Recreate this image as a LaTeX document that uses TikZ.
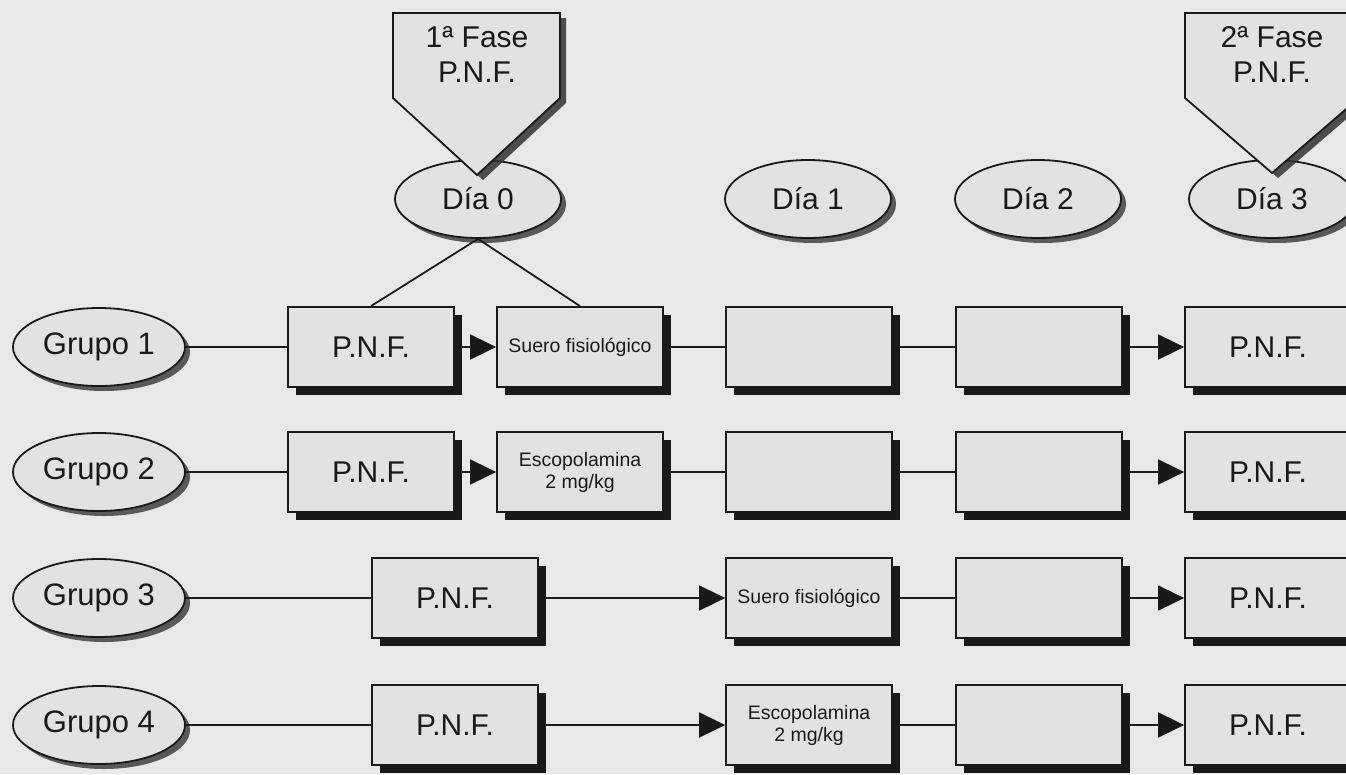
\documentclass[tikz,border=0pt]{standalone}
\usepackage{fontspec}
\setmainfont{Liberation Sans}
\usetikzlibrary{arrows.meta,shapes.geometric,shadows}
\definecolor{fondo}{RGB}{232,232,232}
\definecolor{relleno}{RGB}{226,226,226}
\definecolor{tinta}{RGB}{25,25,25}
\begin{document}
\begin{tikzpicture}[x=1pt,y=-1pt,line width=1.8pt,draw=tinta,
	every node/.style={font=\fontsize{30}{35}\selectfont,text=tinta},
	grupo/.style={ellipse,draw=tinta,fill=relleno,minimum width=172pt,minimum height=78pt,inner sep=0pt,
		drop shadow={shadow xshift=5pt,shadow yshift=-5pt,fill=black!75,opacity=0.85}},
	dia/.style={grupo,minimum width=166pt},
	caja/.style={rectangle,draw=tinta,fill=relleno,minimum width=166pt,minimum height=80pt,inner sep=0pt,
		drop shadow={shadow xshift=8pt,shadow yshift=-8pt,fill=black!90,opacity=1}},
	chica/.style={font=\fontsize{19.5}{22}\selectfont,align=center},
	fase/.style={draw=tinta,fill=relleno,drop shadow={shadow xshift=6pt,shadow yshift=-5pt,fill=black!80,opacity=0.85}},
	flecha/.style={-{Triangle[length=26pt,width=25pt]}}]
	\fill[fondo] (0,0) rectangle (1346,774);
	\useasboundingbox (0,0) rectangle (1346,774);
	% dias
	\node[dia] (d0) at (478,199) {Día 0};
	\node[dia] (d1) at (808,199) {Día 1};
	\node[dia] (d2) at (1038,199) {Día 2};
	\node[dia] (d3) at (1272,199) {Día 3};
	% fases
	\path[fase] (393,13) -- (560,13) -- (560,98) -- (477,175) -- (393,98) -- cycle;
	\path[fase] (1185,13) -- (1359,13) -- (1359,98) -- (1272,173) -- (1185,98) -- cycle;
	\node[align=center] (fa) at (477,55) {1ª Fase\\P.N.F.};
	\node[align=center] (fb) at (1272,55) {2ª Fase\\P.N.F.};
	% grupos
	\node[grupo,font=\fontsize{31}{35}\selectfont] (g1) at (99,347) {Grupo 1};
	\node[grupo,font=\fontsize{31}{35}\selectfont] (g2) at (99,472) {Grupo 2};
	\node[grupo,font=\fontsize{31}{35}\selectfont] (g3) at (99,598) {Grupo 3};
	\node[grupo,font=\fontsize{31}{35}\selectfont] (g4) at (99,725) {Grupo 4};
	% fila 1
	\node[caja] (p1) at (371,347) {P.N.F.};
	\node[caja,chica] (s1) at (580,347) {Suero fisiológico};
	\node[caja] (a1) at (809,347) {};
	\node[caja] (b1) at (1039,347) {};
	\node[caja] (f1) at (1268,347) {P.N.F.};
	% fila 2
	\node[caja] (p2) at (371,472) {P.N.F.};
	\node[caja,chica] (s2) at (580,472) {Escopolamina\\2 mg/kg};
	\node[caja] (a2) at (809,472) {};
	\node[caja] (b2) at (1039,472) {};
	\node[caja] (f2) at (1268,472) {P.N.F.};
	% fila 3
	\node[caja] (p3) at (455,598) {P.N.F.};
	\node[caja,chica] (s3) at (809,598) {Suero fisiológico};
	\node[caja] (b3) at (1039,598) {};
	\node[caja] (f3) at (1268,598) {P.N.F.};
	% fila 4
	\node[caja] (p4) at (455,725) {P.N.F.};
	\node[caja,chica] (s4) at (809,725) {Escopolamina\\2 mg/kg};
	\node[caja] (b4) at (1039,725) {};
	\node[caja] (f4) at (1268,725) {P.N.F.};
	% conexiones
	\draw (d0.south) -- (p1.north);
	\draw (d0.south) -- (s1.north);
	\draw (g1) -- (p1);
	\draw[flecha] (p1) -- (s1);
	\draw (s1) -- (a1);
	\draw (a1) -- (b1);
	\draw[flecha] (b1) -- (f1);
	\draw (g2) -- (p2);
	\draw[flecha] (p2) -- (s2);
	\draw (s2) -- (a2);
	\draw (a2) -- (b2);
	\draw[flecha] (b2) -- (f2);
	\draw (g3) -- (p3);
	\draw[flecha] (p3) -- (s3);
	\draw (s3) -- (b3);
	\draw[flecha] (b3) -- (f3);
	\draw (g4) -- (p4);
	\draw[flecha] (p4) -- (s4);
	\draw (s4) -- (b4);
	\draw[flecha] (b4) -- (f4);
\end{tikzpicture}
\end{document}
